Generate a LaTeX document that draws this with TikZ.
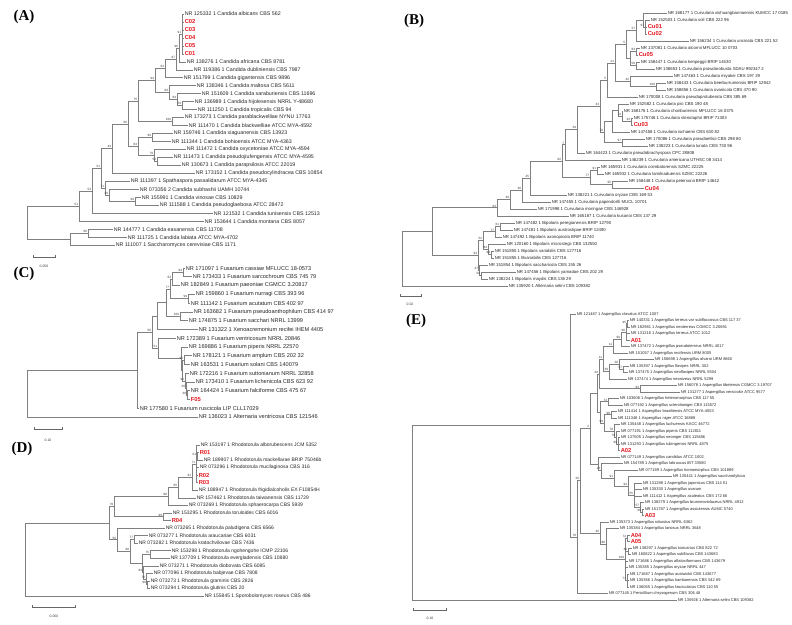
\documentclass[tikz,border=0pt]{standalone}
\usepackage{fontspec}
\setmainfont{Liberation Serif}
\setsansfont{Liberation Sans}
\usetikzlibrary{calc}
\definecolor{isored}{RGB}{228,24,32}
\definecolor{branchgray}{RGB}{128,128,128}
\newcommand{\iso}[1]{{\fontsize{5.8}{6}\selectfont\bfseries\color{isored}#1}}

\begin{document}
\begin{tikzpicture}[x=1pt, y=-1pt]
    \tikzstyle{tipA} = [anchor=west, inner sep=0.6pt, text=black!85, font=\sffamily\fontsize{5.3}{6}\selectfont]
    \tikzstyle{tipB} = [tipA, font=\sffamily\fontsize{4.3}{5}\selectfont]
    \tikzstyle{tipC} = [tipA, font=\sffamily\fontsize{5.6}{6}\selectfont]
    \tikzstyle{tipD} = [tipA, font=\sffamily\fontsize{5.0}{6}\selectfont]
    \tikzstyle{tipE} = [tipA, font=\sffamily\fontsize{4.0}{5}\selectfont]
    \tikzstyle{br} = [draw=branchgray, line width=0.55pt]
    \tikzstyle{sup} = [anchor=south east, inner sep=0.3pt, xshift=-0.4pt, yshift=0.2pt, text=black!80, font=\sffamily\fontsize{3.1}{3.5}\selectfont]
    \tikzstyle{panel} = [font=\rmfamily\bfseries\fontsize{15}{15}\selectfont]
    \tikzstyle{scalebar} = [draw=black!60, line width=0.55pt]
    \tikzstyle{scl} = [font=\sffamily\fontsize{3.4}{4}\selectfont, text=black!80]

    \useasboundingbox (0,0) rectangle (792,624);

    \node[panel] (tA) at (24,17) {(A)};
    \node[panel] (tB) at (414,21) {(B)};
    \node[panel] (tC) at (24,274) {(C)};
    \node[panel] (tD) at (22,449) {(D)};
    \node[panel] (tE) at (416,321) {(E)};

    % (A) Candida
    \foreach \x/\t [count=\i from 0] in {184/NR 125332 1 Candida albicans CBS 562, 184/\iso{C02}, 184/\iso{C03}, 184/\iso{C04}, 184/\iso{C05}, 184/\iso{C01},
        186/NR 138276 1 Candida africana CBS 8781, 193/NR 119386 1 Candida dubliniensis CBS 7987, 183/NR 151799 1 Candida gigantensis CBS 9896,
        196/NR 138346 1 Candida maltosa CBS 5611, 201/NR 151609 1 Candida saraburiensis CBS 11696, 194/NR 136989 1 Candida hijolesensis NRRL Y-48680,
        197/NR 111250 1 Candida tropicalis CBS 94, 184/NR 173273 1 Candida parablackwelliae NYNU 17763, 188/NR 111470 1 Candida blackwelliae ATCC MYA-4592,
        173/NR 159746 1 Candida xiaguanensis CBS 13923, 171/NR 111344 1 Candida bohioensis ATCC MYA-4363, 186/NR 111472 1 Candida oxycetoniae ATCC MYA-4594,
        173/NR 111473 1 Candida pseudojiufengensis ATCC MYA-4595, 181/NR 130673 1 Candida parapsilosis ATCC 22019, 195/NR 173152 1 Candida pseudocylindracea CBS 10854,
        130/NR 111397 1 Spathaspora passalidarum ATCC MYA-4345, 139/NR 073356 2 Candida subhashii UAMH 10744, 141/NR 155991 1 Candida vinosae CBS 10829,
        159/NR 111588 1 Candida pseudoglaebosa ATCC 28472, 213/NR 121532 1 Candida tunisensis CBS 12513, 204/NR 153644 1 Candida montana CBS 8057,
        113/NR 144777 1 Candida easanensis CBS 11708, 127/NR 111725 1 Candida labiata ATCC MYA-4702, 115/NR 111007 1 Saccharomyces cerevisiae CBS 1171}
        \node[tipA] (la\i) at (\x, 14+7.97*\i) {\t};

    % (B) Curvularia / Bipolaris
    \foreach \x/\t [count=\i from 1] in {667/NR 168177 1 Curvularia xishuangbannaensis KUMCC 17 0185, 650/NR 152503 1 Curvularia soli CBS 222 96, 647/\iso{Cu01}, 647/\iso{Cu02},
        689/NR 156234 1 Curvularia uncinata CBS 221 52, 640/NR 137081 1 Curvularia alcornii MFLUCC 10 0703, 638/\iso{Cu05}, 640/NR 158447 1 Curvularia kenpeggii BRIP 14530,
        655/NR 138653 1 Curvularia pseudorobusta SDAU 992347 2, 673/NR 147463 1 Curvularia miyakei CBS 197 29, 666/NR 158443 1 Curvularia beerburrumensis BRIP 12942,
        666/NR 158856 1 Curvularia ovariicola CBS 470 90, 638/NR 170008 1 Curvularia pseudoprotuberata CBS 385 69, 629/NR 152582 1 Curvularia pisi CBS 190 48,
        623/NR 168176 1 Curvularia chonburiensis MFLUCC 16 0375, 633/NR 175746 1 Curvularia stenotaphri BRIP 71303, 633/\iso{Cu03}, 630/NR 147458 1 Curvularia ischaemi CBS 630 82,
        645/NR 170086 1 Curvularia pseudoellisii CBS 298 80, 648/NR 138223 1 Curvularia lunata CBS 730 96, 585/NR 164423 1 Curvularia pseudobrachyspora CPC 28808,
        621/NR 146239 1 Curvularia americana UTHSC 08 3414, 600/NR 165931 1 Curvularia coimbatorensis SZMC 22225, 604/NR 165932 1 Curvularia tamilnaduensis SZMC 22226,
        628/NR 158448 1 Curvularia petersonii BRIP 14642, 644/\iso{Cu04}, 567/NR 138221 1 Curvularia oryzae CBS 169 53, 551/NR 147455 1 Curvularia papendorfii MUCL 10701,
        537/NR 171998 1 Curvularia moringae CBS 146928, 569/NR 165187 1 Curvularia kusanoi CBS 137 29, 515/NR 147482 1 Bipolaris peregianensis BRIP 12790,
        513/NR 147481 1 Bipolaris austrostipae BRIP 12490, 502/NR 147492 1 Bipolaris axonopicola BRIP 11740, 506/NR 120160 1 Bipolaris microstegii CBS 132550,
        494/NR 151855 1 Bipolaris variabilis CBS 127716, 494/NR 151855 1 Bvariabilis CBS 127716, 488/NR 151854 1 Bipolaris saccharicola CBS 155 26,
        516/NR 147456 1 Bipolaris yamadae CBS 202 29, 488/NR 138224 1 Bipolaris maydis CBS 136 29, 508/NR 135920 1 Alternaria selini CBS 109382}
        \node[tipB] (lb\i) at (\x, 6+7*\i) {\t};

    % (C) Fusarium
    \foreach \x/\t [count=\i from 1] in {185/NR 171097 1 Fusarium cassiae MFLUCC 18-0573, 192/NR 173433 1 Fusarium sarcochroum CBS 745 79, 180/NR 182849 1 Fusarium paeoniae CGMCC 3.20817,
        195/NR 159860 1 Fusarium nurragi CBS 393 96, 190/NR 111142 1 Fusarium acutatum CBS 402 97, 193/NR 163682 1 Fusarium pseudoanthophilum CBS 414 97,
        188/NR 174875 1 Fusarium sacchari NRRL 13999, 198/NR 131322 1 Xenoacremonium recifei IHEM 4405, 176/NR 172389 1 Fusarium ventricosum NRRL 20846,
        188/NR 169886 1 Fusarium piperis NRRL 22570, 192/NR 178121 1 Fusarium amplum CBS 202 32, 190/NR 163531 1 Fusarium solani CBS 140079,
        189/NR 172216 1 Fusarium suttonianum NRRL 32858, 195/NR 173410 1 Fusarium lichenicola CBS 623 92, 190/NR 164424 1 Fusarium falciforme CBS 475 67,
        190/\iso{F05}, 139/NR 177580 1 Fusarium ruscicola LIP CLL17029, 198/NR 136023 1 Alternaria ventricosa CBS 121546}
        \node[tipC] (lc\i) at (\x, 259.24+8.76*\i) {\t};

    % (D) Rhodotorula
    \foreach \x/\t [count=\i from 1] in {200/NR 153197 1 Rhodotorula alborubescens JCM 5352, 199/\iso{R01}, 203/NR 189907 1 Rhodotorula mackellarae BRIP 75046b,
        199/NR 073296 1 Rhodotorula mucilaginosa CBS 316, 198/\iso{R02}, 198/\iso{R03}, 198/NR 188947 1 Rhodotorula frigidialcoholis EX F10854H,
        196/NR 157462 1 Rhodotorula taiwanensis CBS 11729, 188/NR 073269 1 Rhodotorula sphaerocarpa CBS 5939, 172/NR 153295 1 Rhodotorula toruloides CBS 6016,
        171/\iso{R04}, 165/NR 073265 1 Rhodotorula paludigena CBS 6566, 148/NR 073277 1 Rhodotorula araucariae CBS 6031,
        138/NR 073282 1 Rhodotorula kratochvilovae CBS 7436, 171/NR 153298 1 Rhodotorula ngohengohe ICMP 22106, 170/NR 137709 1 Rhodotorula evergladensis CBS 10880,
        159/NR 073271 1 Rhodotorula diobovata CBS 6085, 153/NR 077096 1 Rhodotorula babjevae CBS 7808, 150/NR 073273 1 Rhodotorula graminis CBS 2826,
        150/NR 073294 1 Rhodotorula glutinis CBS 20, 204/NR 155845 1 Sporobolomyces roseus CBS 486}
        \node[tipD] (ld\i) at (\x, 437.45+7.55*\i) {\t};

    % (E) Aspergillus
    \foreach \x/\t [count=\i from 1] in {576/NR 121487 1 Aspergillus clavatus ATCC 1007, 629/NR 140331 1 Aspergillus terreus var subfloccosus CBS 117 37,
        630/NR 182981 1 Aspergillus neoterreus CGMCC 3.20891, 630/NR 131216 1 Aspergillus terreus ATCC 1012, 630/\iso{A01},
        630/NR 137472 1 Aspergillus pseudoterreus NRRL 4017, 628/NR 151057 1 Aspergillus recifensis URM 8005, 654/NR 156698 1 Aspergillus alvaroi URM 8660,
        629/NR 135397 1 Aspergillus flavipes NRRL 302, 628/NR 137475 1 Aspergillus neoflavipes NRRL 5504, 627/NR 137474 1 Aspergillus neoniveus NRRL 5299,
        677/NR 156078 1 Aspergillus tibetensis CGMCC 3.19707, 680/NR 131277 1 Aspergillus versicolor ATCC 9577, 619/NR 103606 1 Aspergillus heteromorphus CBS 117 55,
        623/NR 077192 1 Aspergillus sclerotioniger CBS 115572, 617/NR 111414 1 Aspergillus brasiliensis ATCC MYA-4553, 617/NR 111348 1 Aspergillus niger ATCC 16888,
        620/NR 135448 1 Aspergillus luchuensis KACC 46772, 620/NR 077191 1 Aspergillus piperis CBS 112811, 620/NR 137505 1 Aspergillus neoniger CBS 115656,
        620/NR 131293 1 Aspergillus tubingensis NRRL 4875, 620/\iso{A02}, 620/NR 077149 1 Aspergillus candidus ATCC 1002,
        623/NR 154789 1 Aspergillus labruscus IBT 33580, 638/NR 077189 1 Aspergillus homomorphus CBS 101889, 672/NR 135441 1 Aspergillus saccharolyticus,
        642/NR 131288 1 Aspergillus japonicus CBS 114 51, 642/NR 135330 1 Aspergillus uvarum, 642/NR 111412 1 Aspergillus aculeatus CBS 172 66,
        644/NR 138279 1 Aspergillus brunneoviolaceus NRRL 4912, 644/NR 151787 1 Aspergillus assiutensis AUMC 5740, 644/\iso{A03},
        609/NR 135373 1 Aspergillus robustus NRRL 6362, 619/NR 135384 1 Aspergillus lanosus NRRL 3648, 630/\iso{A04}, 630/\iso{A05},
        632/NR 138297 1 Aspergillus toxicarius CBS 822 72, 631/NR 160822 1 Aspergillus subflavus CBS 143683, 628/NR 171686 1 Aspergillus aflatoxiformans CBS 143679,
        628/NR 135385 1 Aspergillus oryzae NRRL 447, 629/NR 171687 1 Aspergillus austwickii CBS 143677, 629/NR 135366 1 Aspergillus kambarensis CBS 542 69,
        629/NR 136065 1 Aspergillus fasciculatus CBS 110 55, 608/NR 077145 1 Penicillium chrysogenum CBS 306 48, 677/NR 135926 1 Alternaria selini CBS 109382}
        \node[tipE] (le\i) at (\x, 307.5+6.5*\i) {\t};

    % internal nodes: name / x / first child / last child
    \foreach \n/\x/\a/\b in {na1/182/la0/la5, na2/179/na1/la6, na3/176/na2/la7, na4/165/na3/la8, nb1/182/la11/la12, nb2/177/la10/nb1,
        nb3/169/la9/nb2, na5/155/na4/nb3, nc1/172/la13/la14, na6/138/na5/nc1, nd1/152/la15/la16, nd2/157/la18/la19, nd3/154/la17/nd2,
        nd4/138/nd1/nd3, na7/128/na6/nd4, na8/112/na7/la20, ne1/135/la23/la24, ne2/109/la22/ne1, ne3/105/la21/ne2, na9/101/na8/ne3,
        na10/92/na9/la25, na11/79/na10/la26, nf1/88/la27/la28, nf2/70/nf1/la29, nra/27/na11/nf2,
        bm1/645/lb2/lb4, bm2/643/lb1/bm1, bm3/636/bm2/lb5, bm6/636/lb6/lb7, bm7/636/lb8/lb9, bm8/630/bm6/bm7, bm4/626/bm3/bm8,
        bm9/656/lb11/lb12, bm10/630/lb10/bm9, bm11/615/bm4/bm10, bm12/607/bm11/lb13, bp1/631/lb16/lb17, bp2/622/lb15/bp1,
        bp3/618/lb14/bp2, bp4/612/bp3/lb18, bp5/622/lb19/lb20, bm14/604/bp4/bp5, bm13/600/bm12/bm14, bk10/577/bm13/lb21,
        bk6/565/bk10/lb22, bk8/597/lb23/lb24, bk9/612/lb25/lb26, bk7/590/bk8/bk9, bk5/562/bk6/bk7, bk4/530/bk5/lb27,
        bk3/522/bk4/lb28, bk2/510/bk3/lb29, bk1/497/bk2/lb30, bq1/500/lb31/lb32, bq2/495/bq1/lb33, bq4/491/lb35/lb36,
        bq5/488/lb34/bq4, bq3/483/bq2/bq5, bq6/481/lb38/lb39, bq7/479/lb37/bq6, bq8/478/bq3/bq7, br1/432/bk1/bq8, brt/402/br1/lb40,
        cc1/183/lc1/lc2, cc2/172/cc1/lc3, cc3/188/lc4/lc5, cc4/170/cc2/cc3, cc5/180/lc6/lc7, cc6/166/cc4/cc5, cc7/157/cc6/lc8,
        cg1/187/lc15/lc16, cg2/186/lc14/cg1, cg3/185/lc13/cg2, cg4/184/lc11/lc12, cg5/182/cg4/cg3, cg6/181/lc10/cg5,
        cg7/158/lc9/cg6, cc8/152/cc7/cg7, ccr/137/cc8/lc17, crt/27/ccr/lc18,
        dh1/197/ld2/ld3, dh2/196/ld1/ld6, dh3/192/dh2/ld7, dh4/178/dh3/ld8, dh5/168/dh4/ld9, dh6/163/ld10/ld11, dh7/114/dh5/dh6,
        dj1/134/ld13/ld14, dj2/150/ld15/ld16, dj3/147/ld19/ld20, dj4/146/ld18/dj3, dj5/143/ld17/dj4, dj6/142/dj2/dj5,
        dj7/130/dj1/dj6, dj8/117/ld12/dj7, dr1/109/dh7/dj8, drt/25/dr1/ld21,
        ee1/627/le2/le3, ee2/626/ee1/le5, ee3/621/ee2/le6, ee4/613/ee3/le7, ef1/623/le9/le10, ef2/619/le8/ef1, ef3/609/ef2/le11,
        ef4/603/ee4/ef3, ef5/640/le12/le13, ef6/599/ef4/ef5, eg1/618/le20/le22, eg2/616/le19/eg1, eg3/614/le18/eg2,
        eg4/611/le16/le17, eg5/604/eg4/eg3, eg6/608/le14/le15, eg7/600/eg6/eg5, eh1/642/le31/le32, eh2/640/le30/eh1,
        eh3/634/le27/eh2, eh4/628/le26/eh3, eh5/614/le25/eh4, eh6/601/le24/eh5, eh7/598/le23/eh6, ei1/627/le35/le36,
        ei2/628/le37/le38, ei3/627/le41/le43, ei4/625/ei1/ei3, ei5/606/le34/ei4, ei6/600/le33/ei5, eu1/597/ef6/eg7,
        eu2/590/eu1/eh7, eu3/580/eu2/ei6, eu4/577/eu3/le44, eu5/570/le1/eu4, ert/412/eu5/le45}
    {
        \coordinate (m\n) at ($(\a)!.5!(\b)$);
        \coordinate (\n) at (m\n -| \x,0);
        \draw[br] (\n) |- (\a);
        \draw[br] (\n) |- (\b);
    }
    % middle children of multifurcations
    \foreach \n/\c in {na1/la1, na1/la2, na1/la3, na1/la4, bm1/lb3, dh2/dh1, dh2/ld4, dh2/ld5, ee2/le4, eg1/le21,
        eh3/le28, eh3/le29, ei3/le42, ei4/ei2, ei4/le39, ei4/le40}
        \draw[br] (\n) |- (\c);

    % bootstrap values
    \foreach \n/\s in {na1/91, na2/96, na3/97, na4/63, nb1/59, nb2/84, nb3/84, na5/94, nc1/100, na6/75, nd1/99, nd2/52, nd3/79,
        nd4/84, na7/66, na8/44, ne1/99, ne2/29, ne3/71, na9/51, na10/53, na11/51, nf1/66,
        bm1/97, bm3/27, bm6/83, bm7/59, bm4/5, bm9/100, bm10/42, bm11/21, bm12/5, bp1/43, bp2/72, bp5/97, bm14/70, bm13/33,
        bk10/39, bk6/7, bk8/91, bk9/95, bk7/77, bk5/82, bk4/45, bk3/36, bk2/49, bk1/83, bq1/61, bq2/77, bq4/94, bq5/84,
        bq3/52, bq6/50, bq7/47, bq8/94,
        cc1/84, cc2/63, cc3/99, cc4/77, cc5/100, cg1/30, cg2/26, cg3/92, cg4/95, cg7/51, cc8/58,
        dh1/61, dh2/71, dh3/91, dh4/65, dh5/88, dh6/99, dh7/79, dj1/77, dj2/75, dj3/96, dj4/76, dj5/84, dj7/90, dj8/56,
        ee1/95, ee2/96, ee3/99, ee4/11, ef1/97, ef2/28, ef3/39, ef4/11, ef5/93, ef6/26, eg1/99, eg2/79, eg3/78, eg4/98,
        eg5/99, eg6/73, eh1/66, eh2/57, eh3/55, eh4/94, eh5/91, eh6/13, ei1/72, ei2/46, ei3/71, ei4/100, ei5/88, ei6/40,
        eu2/2, eu3/26, eu4/78}
        \node[sup] (s\n) at (\n) {\s};

    % scale bars
    \draw[scalebar] (33,255) -- (33,257) -- (55,257) -- (55,255);
    \node[scl] (scA) at (44,266) {0.050};
    \draw[scalebar] (400,294) -- (400,296) -- (421,296) -- (421,294);
    \node[scl] (scB) at (410,304) {0.02};
    \draw[scalebar] (34,427) -- (34,429) -- (62,429) -- (62,427);
    \node[scl] (scC) at (48,440) {0.10};
    \draw[scalebar] (32,605) -- (32,607) -- (75,607) -- (75,605);
    \node[scl] (scD) at (54,616) {0.050};
    \draw[scalebar] (413,608) -- (413,610) -- (446,610) -- (446,608);
    \node[scl] (scE) at (430,618) {0.10};
\end{tikzpicture}
\end{document}
